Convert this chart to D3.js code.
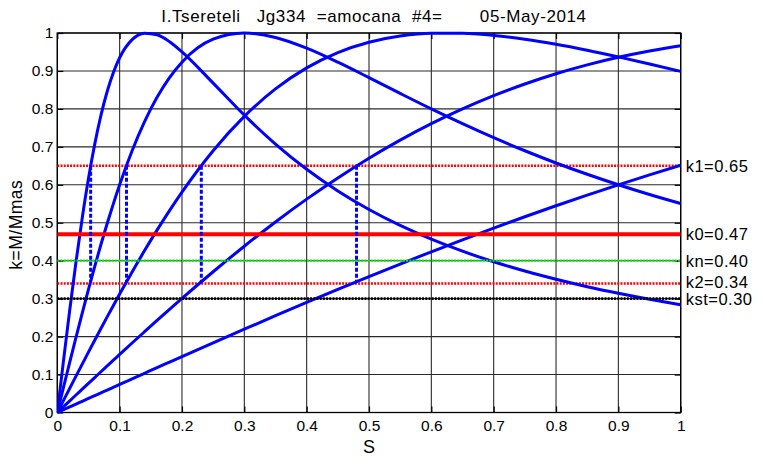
<!DOCTYPE html>
<html><head><meta charset="utf-8">
<script src="https://cdn.jsdelivr.net/npm/d3@7"></script>
<style>body{margin:0;background:#fff;} text{font-family:Arial,"Liberation Sans",sans-serif;fill:#000;}</style>
</head><body>
<svg id="c" width="762" height="458"></svg>
<script>
const titleText = "I.Tsereteli   Jg334  =amocana  #4=       05-May-2014";
const xTicks = [0,0.1,0.2,0.3,0.4,0.5,0.6,0.7,0.8,0.9,1];
const yTicks = [0,0.1,0.2,0.3,0.4,0.5,0.6,0.7,0.8,0.9,1];
const sValues = [0,0.01,0.02,0.03,0.04,0.05,0.06,0.07,0.08,0.09,0.10,0.12,0.14,0.16,0.18,0.20,0.25,0.30,0.35,0.40,0.45,0.50,0.55,0.60,0.65,0.70,0.75,0.80,0.85,0.90,0.95,1.00];
const curve1 = [0,0.1373,0.2707,0.3968,0.5127,0.6164,0.7066,0.7830,0.8459,0.8961,0.9347,0.9824,0.9994,0.9952,0.9771,0.9504,0.8680,0.7836,0.7072,0.6408,0.5838,0.5350,0.4930,0.4567,0.4250,0.3972,0.3727,0.3510,0.3315,0.3141,0.2983,0.2840];
const curve2 = [0,0.0666,0.1327,0.1980,0.2620,0.3243,0.3846,0.4426,0.4979,0.5505,0.6000,0.6897,0.7664,0.8304,0.8824,0.9231,0.9836,1.0000,0.9882,0.9600,0.9231,0.8824,0.8408,0.8000,0.7610,0.7241,0.6897,0.6575,0.6277,0.6000,0.5743,0.5505];
const curve3 = [0,0.0320,0.0639,0.0958,0.1275,0.1590,0.1902,0.2212,0.2519,0.2821,0.3120,0.3704,0.4266,0.4805,0.5319,0.5806,0.6897,0.7802,0.8526,0.9081,0.9484,0.9756,0.9919,0.9992,0.9992,0.9936,0.9836,0.9703,0.9545,0.9370,0.9183,0.8989];
const curve4 = [0,0.0154,0.0308,0.0461,0.0615,0.0768,0.0921,0.1074,0.1226,0.1378,0.1529,0.1831,0.2129,0.2425,0.2717,0.3006,0.3709,0.4382,0.5021,0.5622,0.6182,0.6701,0.7177,0.7610,0.8000,0.8349,0.8657,0.8927,0.9161,0.9360,0.9527,0.9665];
const curve5 = [0,0.0074,0.0148,0.0222,0.0296,0.0370,0.0444,0.0518,0.0592,0.0666,0.0740,0.0887,0.1034,0.1181,0.1327,0.1473,0.1836,0.2195,0.2550,0.2899,0.3243,0.3581,0.3912,0.4235,0.4551,0.4859,0.5158,0.5448,0.5729,0.6000,0.6262,0.6514];
const levelNames = ["k1","k0","kn","k2","kst"];
const levelValues = [0.65,0.47,0.40,0.34,0.30];
const levelLabels = ["k1=0.65","k0=0.47","kn=0.40","k2=0.34","kst=0.30"];
const dropS = [0.0535,0.111,0.231,0.48];
const dropTop = [0.65,0.65,0.65,0.65];
const dropBottom = [0.345,0.345,0.345,0.345];

const L=57.3, R=680.7, T=33, B=412.5;
const svg = d3.select("#c");
const x = d3.scaleLinear().domain([0,1]).range([L,R]);
const y = d3.scaleLinear().domain([0,1]).range([B,T]);

svg.append("defs").append("clipPath").attr("id","clip").append("rect")
  .attr("x",L).attr("y",T-2).attr("width",R-L).attr("height",B-T+4);

// grid
const g = svg.append("g");
g.selectAll(".gx").data(xTicks).join("line").attr("x1",d=>x(d)).attr("x2",d=>x(d)).attr("y1",T).attr("y2",B).attr("stroke","#2a2a2a").attr("stroke-width",1.1);
g.selectAll(".gy").data(yTicks).join("line").attr("y1",d=>y(d)).attr("y2",d=>y(d)).attr("x1",L).attr("x2",R).attr("stroke","#2a2a2a").attr("stroke-width",1.1);

// axes with inward ticks
const ax = svg.append("g");
ax.append("g").attr("transform",`translate(0,${B})`).call(d3.axisBottom(x).tickValues(xTicks).tickSize(-6).tickPadding(7).tickFormat(d3.format("")));
ax.append("g").attr("transform",`translate(0,${T})`).call(d3.axisTop(x).tickValues(xTicks).tickSize(-6).tickFormat(""));
ax.append("g").attr("transform",`translate(${L},0)`).call(d3.axisLeft(y).tickValues(yTicks).tickSize(-6).tickPadding(4).tickFormat(d3.format("")));
ax.append("g").attr("transform",`translate(${R},0)`).call(d3.axisRight(y).tickValues(yTicks).tickSize(-6).tickFormat(""));
ax.selectAll("path.domain").remove();
ax.selectAll(".tick line").attr("stroke","#000").attr("stroke-width",1.2);
ax.selectAll(".tick text").style("font-size","15.5px").style("font-family","Arial, 'Liberation Sans', sans-serif");
svg.append("rect").attr("x",L).attr("y",T).attr("width",R-L).attr("height",B-T).attr("fill","none").attr("stroke","#000").attr("stroke-width",1.3);

const plot = svg.append("g").attr("clip-path","url(#clip)");
const styles = {
  k1:{c:"#ff0000",w:2.5,d:"2,1.2"},
  k0:{c:"#ff0000",w:4,d:null},
  kn:{c:"#00ee00",w:2.2,d:"2,1.2"},
  k2:{c:"#ff0000",w:2.5,d:"2,1.2"},
  kst:{c:"#000000",w:2.6,d:"2,1.2"}
};
const line = d3.line().x((d,i)=>x(sValues[i])).y(d=>y(d)).curve(d3.curveMonotoneX);
const drawLevel = (i)=>{
  const n = levelNames[i], st = styles[n];
  const ln = plot.append("line").attr("x1",L).attr("x2",R).attr("y1",y(levelValues[i])).attr("y2",y(levelValues[i]))
    .attr("stroke",st.c).attr("stroke-width",st.w);
  if(st.d) ln.attr("stroke-dasharray",st.d);
};
[0,3].forEach(drawLevel);
[curve1,curve2,curve3,curve4,curve5].forEach(c=>{
  plot.append("path").attr("d",line(c)).attr("fill","none").attr("stroke","#0000ff").attr("stroke-width",3).attr("stroke-linejoin","round");
});
[1,2,4].forEach(drawLevel);
dropS.forEach((s,i)=>{
  plot.append("line").attr("x1",x(s)).attr("x2",x(s)).attr("y1",y(dropTop[i])).attr("y2",y(dropBottom[i]))
    .attr("stroke","#0000ff").attr("stroke-width",3).attr("stroke-dasharray","4,2");
});

const labelDy = [0, 0, 0, -1.5, 0.5];
levelNames.forEach((n,i)=>{
  svg.append("text").attr("x",R+5).attr("y",y(levelValues[i])+labelDy[i]).attr("dy","0.36em")
    .style("font-size","16.5px").style("letter-spacing","0.5px").text(levelLabels[i]);
});

svg.append("text").attr("x",374).attr("y",22).attr("text-anchor","middle").style("font-size","17px").style("letter-spacing","0.6px").style("white-space","pre").attr("xml:space","preserve").text(titleText);
svg.append("text").attr("x",(L+R)/2).attr("y",453).attr("text-anchor","middle").style("font-size","18px").text("S");
svg.append("text").attr("transform",`translate(22,${(T+B)/2+2}) rotate(-90)`).attr("text-anchor","middle").style("font-size","17.5px").style("letter-spacing","0.5px").text("k=M/Mmas");
</script>
</body></html>
